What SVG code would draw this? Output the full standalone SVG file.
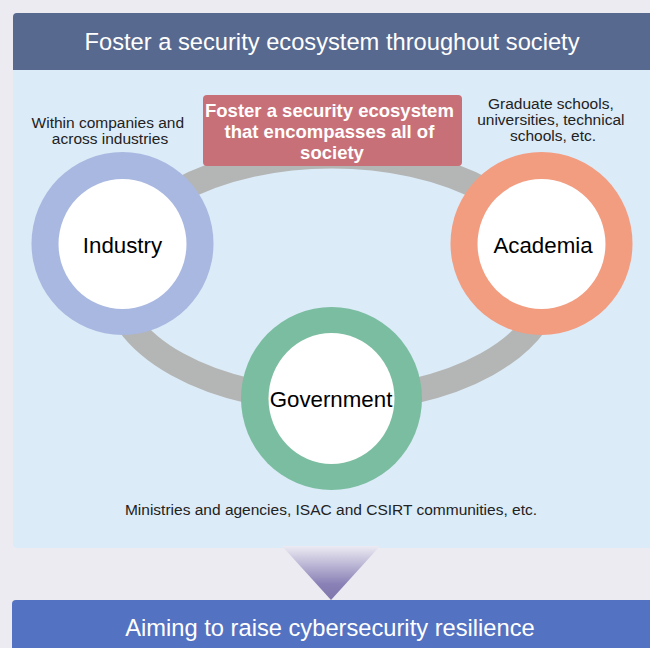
<svg xmlns="http://www.w3.org/2000/svg" width="650" height="648" viewBox="0 0 650 648">
  <defs>
    <linearGradient id="tri" x1="0" y1="0" x2="0" y2="1">
      <stop offset="0" stop-color="#ECEBF3"/>
      <stop offset="0.7" stop-color="#8A82B6"/>
      <stop offset="1" stop-color="#7E76AC"/>
    </linearGradient>
  </defs>
  <style>
    .t { font-family: "Liberation Sans", Arial, sans-serif; }
    .hdr { fill: #FFFFFF; font-size: 23.7px; text-anchor: middle; }
    .note { fill: #222222; font-size: 15.5px; text-anchor: middle; }
    .lbl { fill: #000000; font-size: 22.3px; text-anchor: middle; }
    .inner { fill: #FFFFFF; }
  </style>
  <rect width="650" height="648" fill="#ECEBF1"/>

  <!-- top panel -->
  <g id="panel">
    <rect x="13" y="13" width="660" height="535" rx="4" fill="#DCEBF8"/>
    <path d="M13 70 V17 A4 4 0 0 1 17 13 H650 V70 Z" fill="#58698F"/>
    <text class="t hdr" x="332" y="50">Foster a security ecosystem throughout society</text>
  </g>

  <!-- connector ring -->
  <g id="connectors">
    <ellipse cx="332" cy="278" rx="219" ry="122" fill="none" stroke="#B4B6B5" stroke-width="25"/>
  </g>

  <g id="center-box">
    <rect x="203" y="95" width="259" height="71" rx="4" fill="#C87078"/>
    <text class="t" fill="#FFFFFF" font-size="18.5" font-weight="bold" text-anchor="middle">
      <tspan x="332" y="117">Foster a security ecosystem</tspan>
      <tspan x="332" y="138">that encompasses all of</tspan>
      <tspan x="332" y="159">society</tspan>
    </text>
  </g>

  <g id="industry">
    <ellipse cx="122.5" cy="243.5" rx="91" ry="91.5" fill="#A9B8E0"/>
    <ellipse class="inner" cx="122.5" cy="244" rx="64" ry="65"/>
    <text class="t lbl" x="122.5" y="253">Industry</text>
  </g>
  <g id="industry-note">
    <text class="t note">
      <tspan x="110" y="128">Within companies and</tspan>
      <tspan x="110" y="144">across industries</tspan>
    </text>
  </g>

  <g id="academia">
    <ellipse cx="541.5" cy="243.5" rx="91" ry="91.5" fill="#F29C80"/>
    <ellipse class="inner" cx="541.5" cy="244" rx="64" ry="65"/>
    <text class="t lbl" x="543" y="253">Academia</text>
  </g>
  <g id="academia-note">
    <text class="t note">
      <tspan x="553" y="109">Graduate schools,</tspan>
      <tspan x="553" y="125">universities, technical</tspan>
      <tspan x="553" y="141">schools, etc.</tspan>
    </text>
  </g>

  <g id="government">
    <ellipse cx="331.5" cy="398.5" rx="90.5" ry="91.5" fill="#7BBDA0"/>
    <ellipse class="inner" cx="331.5" cy="398.5" rx="63" ry="65.5"/>
    <text class="t lbl" x="331" y="407">Government</text>
  </g>
  <g id="government-note">
    <text class="t note" x="331" y="515">Ministries and agencies, ISAC and CSIRT communities, etc.</text>
  </g>

  <g id="arrow">
    <polygon points="282,546 380,546 331,600" fill="url(#tri)"/>
  </g>

  <g id="result">
    <path d="M12 648 V604 A4 4 0 0 1 16 600 H650 V648 Z" fill="#5472C2"/>
    <text class="t hdr" x="330" y="636">Aiming to raise cybersecurity resilience</text>
  </g>
</svg>
